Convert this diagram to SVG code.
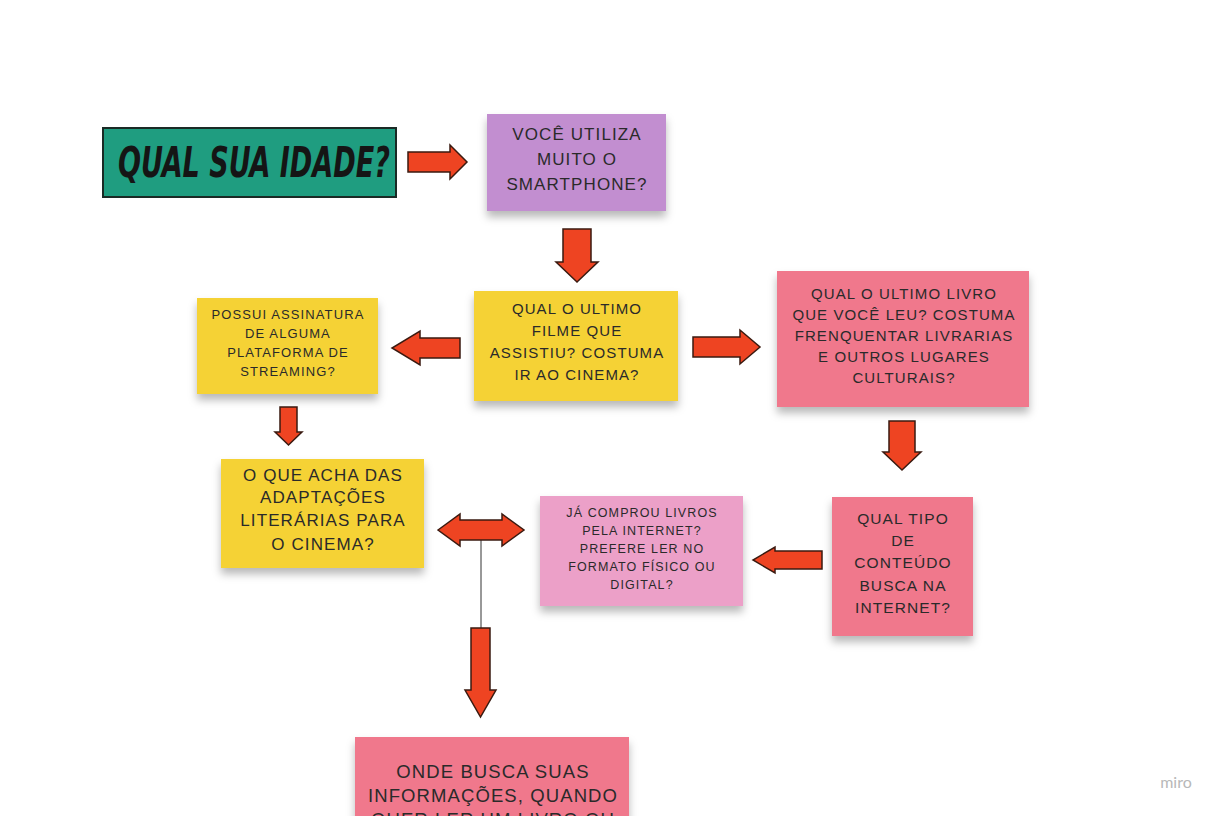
<svg xmlns="http://www.w3.org/2000/svg" width="1224" height="816" viewBox="0 0 1224 816">
<defs>
<filter id="sh" x="-10%" y="-10%" width="120%" height="135%">
<feDropShadow dx="0" dy="6" stdDeviation="4" flood-color="#000" flood-opacity="0.28"/>
</filter>
<style>
.t{font-family:"Liberation Sans","DejaVu Sans",sans-serif;fill:#2a2a2a;text-anchor:middle;letter-spacing:1.1px;}
.ar{fill:#ee4422;stroke:#3a1a10;stroke-width:1.5;stroke-linejoin:miter;}
.y{fill:#f5d236;}
.p{fill:#f0788c;}
</style>
</defs>
<rect width="1224" height="816" fill="#ffffff"/>
<g id="n-idade">
<rect x="103" y="128" width="293" height="69" fill="#1f9d80" stroke="#1a2a25" stroke-width="2"/>
<text x="254" y="177" font-family="DejaVu Sans Condensed,DejaVu Sans,sans-serif" font-weight="bold" font-style="italic" font-size="42" fill="#151515" text-anchor="middle" textLength="272" lengthAdjust="spacingAndGlyphs">QUAL SUA IDADE?</text>
</g>
<g id="n-smartphone">
<rect x="487" y="114" width="179" height="97" fill="#c28ed0" filter="url(#sh)"/>
<text class="t" font-size="17"><tspan x="577" y="140">VOCÊ UTILIZA</tspan><tspan x="577" y="165">MUITO O</tspan><tspan x="577" y="190">SMARTPHONE?</tspan></text>
</g>
<g id="n-filme">
<rect x="474" y="291" width="204" height="110" class="y" filter="url(#sh)"/>
<text class="t" font-size="15"><tspan x="577" y="314">QUAL O ULTIMO</tspan><tspan x="577" y="336">FILME QUE</tspan><tspan x="577" y="358">ASSISTIU? COSTUMA</tspan><tspan x="577" y="380">IR AO CINEMA?</tspan></text>
</g>
<g id="n-streaming">
<rect x="197" y="298" width="181" height="96" class="y" filter="url(#sh)"/>
<text class="t" font-size="13"><tspan x="288" y="319">POSSUI ASSINATURA</tspan><tspan x="288" y="338">DE ALGUMA</tspan><tspan x="288" y="357">PLATAFORMA DE</tspan><tspan x="288" y="376">STREAMING?</tspan></text>
</g>
<g id="n-livro">
<rect x="777" y="271" width="252" height="136" class="p" filter="url(#sh)"/>
<text class="t" font-size="15"><tspan x="904" y="299">QUAL O ULTIMO LIVRO</tspan><tspan x="904" y="320">QUE VOCÊ LEU? COSTUMA</tspan><tspan x="904" y="341">FRENQUENTAR LIVRARIAS</tspan><tspan x="904" y="362">E OUTROS LUGARES</tspan><tspan x="904" y="383">CULTURAIS?</tspan></text>
</g>
<g id="n-adaptacoes">
<rect x="221" y="459" width="203" height="109" class="y" filter="url(#sh)"/>
<text class="t" font-size="17"><tspan x="323" y="481">O QUE ACHA DAS</tspan><tspan x="323" y="503">ADAPTAÇÕES</tspan><tspan x="323" y="526">LITERÁRIAS PARA</tspan><tspan x="323" y="550">O CINEMA?</tspan></text>
</g>
<g id="n-comprou">
<rect x="540" y="496" width="203" height="110" fill="#eca0c8" filter="url(#sh)"/>
<text class="t" font-size="12.5"><tspan x="642" y="517">JÁ COMPROU LIVROS</tspan><tspan x="642" y="535">PELA INTERNET?</tspan><tspan x="642" y="553">PREFERE LER NO</tspan><tspan x="642" y="571">FORMATO FÍSICO OU</tspan><tspan x="642" y="589">DIGITAL?</tspan></text>
</g>
<g id="n-conteudo">
<rect x="832" y="497" width="141" height="139" class="p" filter="url(#sh)"/>
<text class="t" font-size="15.5"><tspan x="903" y="524">QUAL TIPO</tspan><tspan x="903" y="546">DE</tspan><tspan x="903" y="568">CONTEÚDO</tspan><tspan x="903" y="591">BUSCA NA</tspan><tspan x="903" y="613">INTERNET?</tspan></text>
</g>
<g id="n-onde">
<rect x="355" y="737" width="274" height="90" class="p" filter="url(#sh)"/>
<text class="t" font-size="18.5"><tspan x="493" y="778">ONDE BUSCA SUAS</tspan><tspan x="493" y="802">INFORMAÇÕES, QUANDO</tspan><tspan x="493" y="826">QUER LER UM LIVRO OU</tspan></text>
</g>
<g id="connectors">
<polygon class="ar" points="408,152 450,152 450,145 467,162 450,179 450,172 408,172"/>
<polygon class="ar" points="563,229 591,229 591,262 598,262 577,282 556,262 563,262"/>
<polygon class="ar" points="460,338 420,338 420,331 392,348 420,365 420,358 460,358"/>
<polygon class="ar" points="693,337 740,337 740,330 760,347 740,364 740,357 693,357"/>
<polygon class="ar" points="280,407 297,407 297,432 302,432 288.5,445 275,432 280,432"/>
<polygon class="ar" points="889,421 915,421 915,452 921,452 902,470 883,452 889,452"/>
<polygon class="ar" points="822,551 775,551 775,547 753,560 775,573 775,569 822,569"/>
<line x1="481" y1="540" x2="481" y2="628" stroke="#333" stroke-width="1"/>
<polygon class="ar" points="438,530 460,514 460,520 502,520 502,514 524,530 502,546 502,540 460,540 460,546"/>
<polygon class="ar" points="471,628 490,628 490,690 496,690 480.5,717 465,690 471,690"/>
</g>
<text x="1176" y="788" font-family="Lato,'Liberation Sans',sans-serif" font-size="16" fill="#b8b8b8" text-anchor="middle">miro</text>
</svg>
